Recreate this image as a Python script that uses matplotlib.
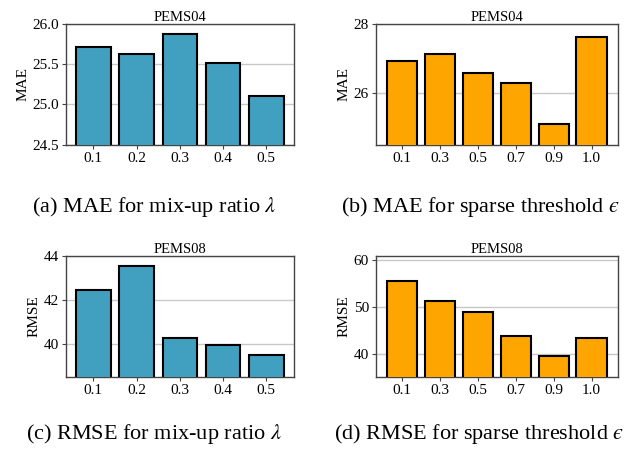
import matplotlib
matplotlib.use("Agg")
import matplotlib.pyplot as plt
import numpy as np

plt.rcParams['font.family'] = ['Liberation Serif', 'DejaVu Serif']
plt.rcParams['mathtext.fontset'] = 'stix'

lam_labels = ['0.1', '0.2', '0.3', '0.4', '0.5']
eps_labels = ['0.1', '0.3', '0.5', '0.7', '0.9', '1.0']
mae_lam = [25.72, 25.63, 25.88, 25.51, 25.11]
mae_eps = [26.93, 27.12, 26.58, 26.28, 25.10, 27.61]
rmse_lam = [42.45, 43.56, 40.25, 39.95, 39.50]
rmse_eps = [55.6, 51.3, 48.85, 43.8, 39.5, 43.3]

blue = '#41a0c0'
orange = '#ffa500'

fig = plt.figure(figsize=(6.42, 4.53), dpi=100)
W, H = 642, 453

def ax_px(l, t, r, b):
    return fig.add_axes([l / W, 1 - b / H, (r - l) / W, (b - t) / H])

panels = [
    (ax_px(65.7, 24, 294, 144.7), lam_labels, mae_lam, blue, 'PEMS04', 'MAE', (24.5, 26.0), [24.5, 25.0, 25.5, 26.0], ['24.5', '25.0', '25.5', '26.0']),
    (ax_px(376, 24, 617.7, 144.7), eps_labels, mae_eps, orange, 'PEMS04', 'MAE', (24.5, 28.0), [26, 28], ['26', '28']),
    (ax_px(65.7, 256, 294, 376.7), lam_labels, rmse_lam, blue, 'PEMS08', 'RMSE', (38.5, 44.0), [40, 42, 44], ['40', '42', '44']),
    (ax_px(376, 255.7, 617.7, 377), eps_labels, rmse_eps, orange, 'PEMS08', 'RMSE', (35, 61), [40, 50, 60], ['40', '50', '60']),
]

for ax, labels, vals, color, title, ylabel, ylim, yt, ytl in panels:
    x = np.arange(len(labels))
    ax.bar(x, vals, width=0.8, color=color, edgecolor='black', linewidth=1.5, zorder=3)
    ax.set_ylim(*ylim)
    ax.set_xticks(x)
    ax.set_xticklabels(labels, fontsize=11)
    ax.set_yticks(yt)
    ax.set_yticklabels(ytl, fontsize=11)
    ax.set_title(title, fontsize=10.5, pad=2)
    ax.set_ylabel(ylabel, fontsize=11, labelpad=2)
    ax.yaxis.grid(True, color='#c8c8c8', linewidth=1.0, zorder=0)
    ax.set_axisbelow(True)
    for s in ax.spines.values():
        s.set_color('#444444')
        s.set_linewidth(1.0)
    ax.tick_params(axis='both', length=3, width=0.8, color='#444444', pad=2)

captions = [
    (154, 207, r'(a) MAE for mix-up ratio $\lambda$'),
    (480, 207, '(b) MAE for sparse threshold $\u03f5$'),
    (154, 434, r'(c) RMSE for mix-up ratio $\lambda$'),
    (479, 434, '(d) RMSE for sparse threshold $\u03f5$'),
]
for cx, cy, txt in captions:
    fig.text(cx / W, 1 - cy / H, txt, ha='center', va='center', fontsize=16)

fig.savefig('out.png', dpi=100)
